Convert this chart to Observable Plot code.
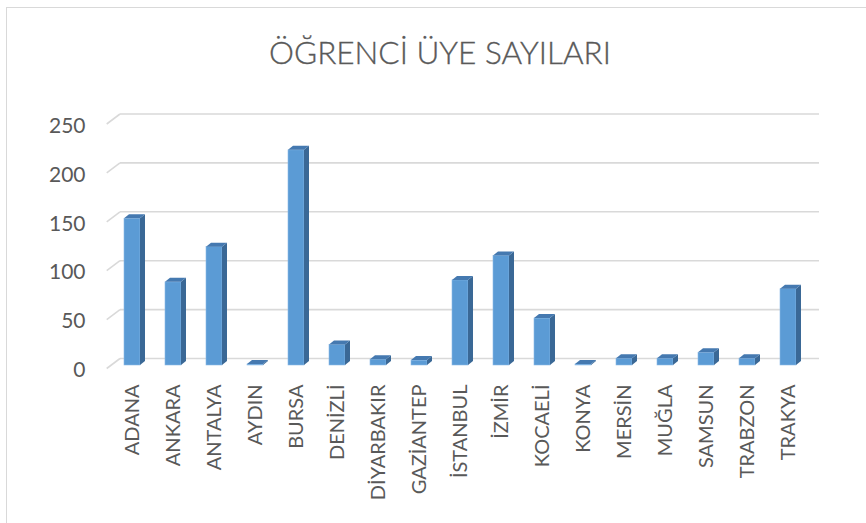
<!DOCTYPE html>
<html>
<head>
<meta charset="utf-8">
<script src="https://cdn.jsdelivr.net/npm/d3@7"></script>
<script src="https://cdn.jsdelivr.net/npm/@observablehq/plot@0.6"></script>
<style>
  html, body { margin: 0; padding: 0; background: #fff; }
  #wrap { position: relative; width: 866px; height: 523px; overflow: hidden; }
  #frame { position: absolute; left: 6px; top: 7px; width: 900px; height: 600px;
           border-left: 1.5px solid #d9d9d9; border-top: 1.5px solid #d9d9d9; box-sizing: border-box; }
  #title { position: relative; height: 100px; width: 866px; }
  #title span { position: absolute; left: 440px; top: 37px; transform: translateX(-50%);
                font-family: Lato, "Open Sans", sans-serif; font-weight: 300; font-size: 31.5px;
                color: #595959; white-space: nowrap; line-height: 1; -webkit-text-stroke: 0.35px #595959; }
  #chart { position: relative; }
</style>
</head>
<body>
<div id="wrap">
  <div id="frame"></div>
  <div id="title"><span>ÖĞRENCİ ÜYE SAYILARI</span></div>
  <div id="chart"></div>
</div>
<script>
const categories = ["ADANA","ANKARA","ANTALYA","AYDIN","BURSA","DENİZLİ","DİYARBAKIR","GAZİANTEP","İSTANBUL","İZMİR","KOCAELİ","KONYA","MERSİN","MUĞLA","SAMSUN","TRABZON","TRAKYA"];
const counts = [150, 85, 121, 1, 220, 21, 6, 5, 87, 112, 48, 1, 7, 7, 13, 7, 78];
const yTicks = [0, 50, 100, 150, 200, 250];

const data = categories.map((c, i) => ({city: c, n: counts[i]}));

const FRONT = "#5b9bd5", SIDE = "#3a6896", TOP = "#4579b0", GRID = "#d9d9d9", TEXT = "#595959";
const DX = 5, DY = 4;

const plot = Plot.plot({
  width: 866,
  height: 423,
  marginLeft: 111.5,
  marginRight: 57.5,
  marginTop: 20.5,
  marginBottom: 158,
  style: {fontFamily: "Lato, 'Open Sans', sans-serif", color: TEXT, background: "transparent"},
  x: {domain: categories, paddingInner: 0.61, paddingOuter: 0.305, label: null},
  y: {domain: [0, 250], label: null},
  marks: [
    Plot.ruleY(yTicks, {stroke: GRID, strokeWidth: 1.6, dy: -7, insetLeft: 8.5, insetRight: -10.5, ariaDescription: "grid"}),
    Plot.axisY(yTicks, {tickSize: 0, tickPadding: 26.5, dy: 5, fontSize: 21, fill: TEXT, label: null}),
    Plot.axisX({tickSize: 0, tickPadding: 19, tickRotate: -90, fontSize: 20, fill: TEXT, label: null}),
    Plot.barY(data, {x: "city", y: "n", fill: FRONT, ariaDescription: "bar3d"})
  ]
});

const ns = "http://www.w3.org/2000/svg";
// diagonal side-wall segments of the gridlines
const grid = plot.querySelector('g[aria-description="grid"]');
if (grid) {
  grid.querySelectorAll("line").forEach(l => {
    const x1 = +l.getAttribute("x1"), y1 = +l.getAttribute("y1");
    const d = document.createElementNS(ns, "line");
    d.setAttribute("x1", x1 - 13.3); d.setAttribute("y1", y1 + 10);
    d.setAttribute("x2", x1); d.setAttribute("y2", y1);
    grid.appendChild(d);
  });
}
// 3D faces of the bars
const bars = plot.querySelector('g[aria-description="bar3d"]');
if (bars) {
  bars.querySelectorAll("rect").forEach(r => {
    const x = +r.getAttribute("x"), y = +r.getAttribute("y");
    const w = +r.getAttribute("width"), h = +r.getAttribute("height");
    const side = document.createElementNS(ns, "polygon");
    side.setAttribute("points", `${x+w},${y} ${x+w+DX},${y-DY} ${x+w+DX},${y+h-DY} ${x+w},${y+h}`);
    side.setAttribute("fill", SIDE);
    const top = document.createElementNS(ns, "polygon");
    top.setAttribute("points", `${x},${y} ${x+DX},${y-DY} ${x+w+DX},${y-DY} ${x+w},${y}`);
    top.setAttribute("fill", TOP);
    r.setAttribute("stroke", "#8dbbe6");
    r.setAttribute("stroke-width", "0.6");
    bars.appendChild(side);
    bars.appendChild(top);
  });
}
document.getElementById("chart").appendChild(plot);
</script>
</body>
</html>
